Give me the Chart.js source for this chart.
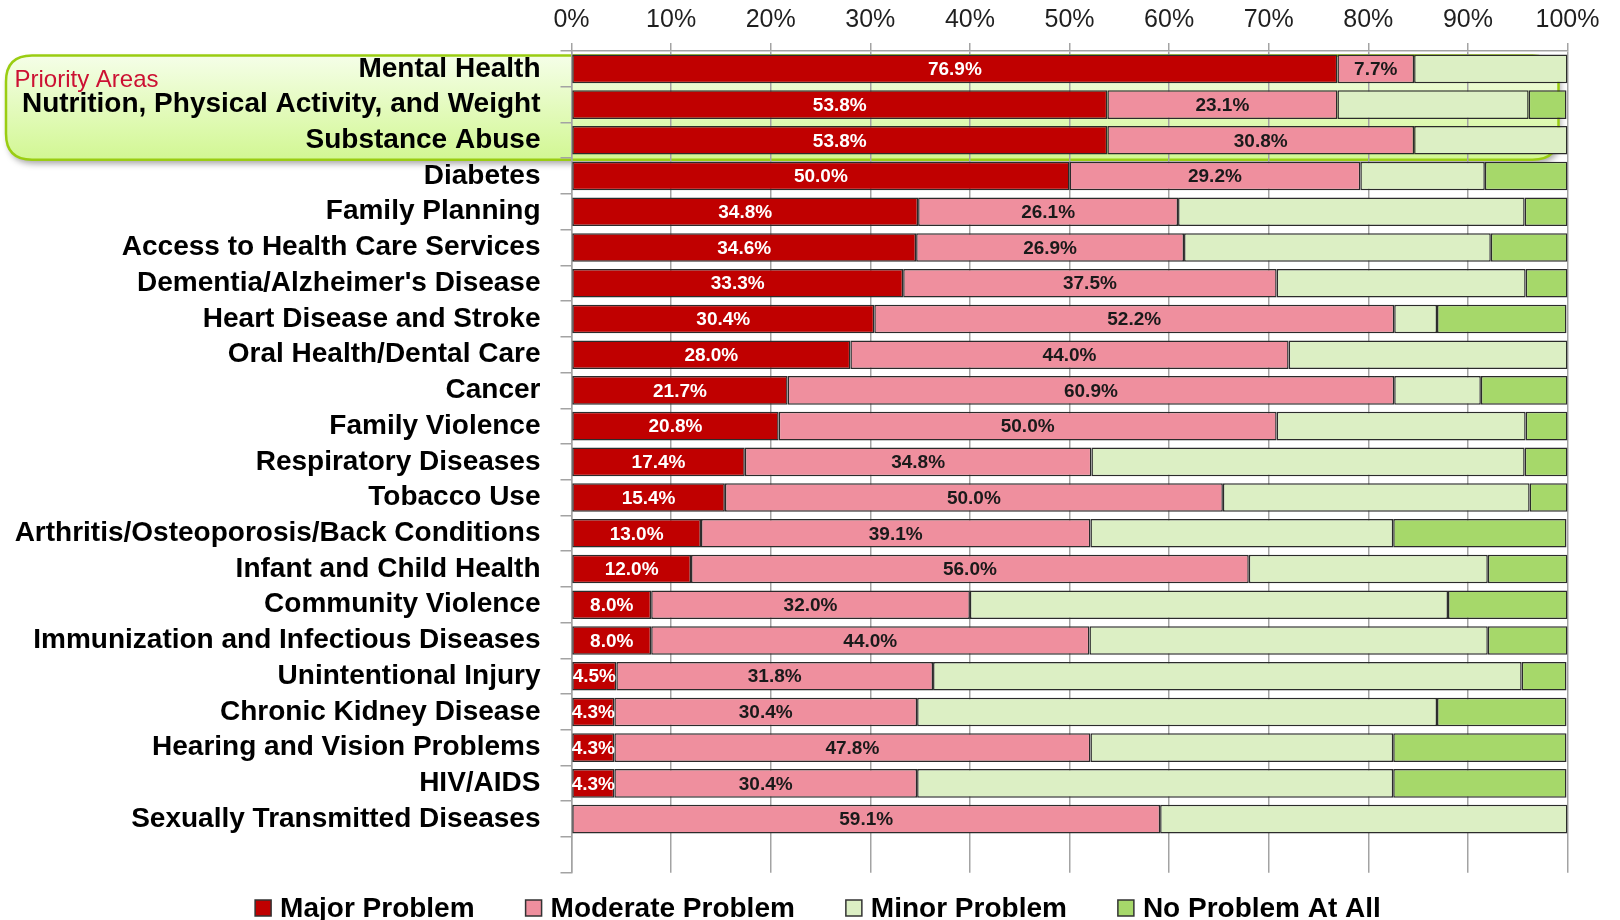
<!DOCTYPE html>
<html>
<head>
<meta charset="utf-8">
<title>Community Health Problems</title>
<script src="https://cdn.jsdelivr.net/npm/chart.js@4.4.1/dist/chart.umd.min.js"></script>
<style>
body { margin: 0; background: #fff; }
#chart { display: block; }
</style>
</head>
<body>
<canvas id="chart" width="1620" height="920"></canvas>
<script>
// last category is empty, the axis leaves one blank row at the bottom
var categories = [
    "Mental Health",
    "Nutrition, Physical Activity, and Weight",
    "Substance Abuse",
    "Diabetes",
    "Family Planning",
    "Access to Health Care Services",
    "Dementia/Alzheimer's Disease",
    "Heart Disease and Stroke",
    "Oral Health/Dental Care",
    "Cancer",
    "Family Violence",
    "Respiratory Diseases",
    "Tobacco Use",
    "Arthritis/Osteoporosis/Back Conditions",
    "Infant and Child Health",
    "Community Violence",
    "Immunization and Infectious Diseases",
    "Unintentional Injury",
    "Chronic Kidney Disease",
    "Hearing and Vision Problems",
    "HIV/AIDS",
    "Sexually Transmitted Diseases",
    ""
];

var majorProblem    = [76.9, 53.8, 53.8, 50.0, 34.8, 34.6, 33.3, 30.4, 28.0, 21.7, 20.8, 17.4, 15.4, 13.0, 12.0, 8.0, 8.0, 4.5, 4.3, 4.3, 4.3, 0, null];
var moderateProblem = [7.7, 23.1, 30.8, 29.2, 26.1, 26.9, 37.5, 52.2, 44.0, 60.9, 50.0, 34.8, 50.0, 39.1, 56.0, 32.0, 44.0, 31.8, 30.4, 47.8, 30.4, 59.1, null];
var minorProblem    = [15.4, 19.2, 15.4, 12.5, 34.8, 30.8, 25.0, 4.3, 28.0, 8.7, 25.0, 43.5, 30.8, 30.4, 24.0, 48.0, 40.0, 59.1, 52.2, 30.4, 47.8, 40.9, null];
var noProblem       = [0, 3.8, 0, 8.3, 4.3, 7.7, 4.2, 13.0, 0, 8.7, 4.2, 4.3, 3.8, 17.4, 8.0, 12.0, 8.0, 4.5, 13.0, 17.4, 17.4, 0, null];

var seriesNames = ["Major Problem", "Moderate Problem", "Minor Problem", "No Problem At All"];
var seriesColors = ["#c00000", "#ef8f9e", "#dcefc4", "#a6d86a"];
var priorityCount = 3;

var fontFamily = '"Liberation Sans", Arial, Helvetica, sans-serif';
var gridColor = "#a3a3a3";

function roundedRect(ctx, x, y, w, h, r) {
    ctx.beginPath();
    ctx.moveTo(x + r, y);
    ctx.lineTo(x + w - r, y);
    ctx.quadraticCurveTo(x + w, y, x + w, y + r);
    ctx.lineTo(x + w, y + h - r);
    ctx.quadraticCurveTo(x + w, y + h, x + w - r, y + h);
    ctx.lineTo(x + r, y + h);
    ctx.quadraticCurveTo(x, y + h, x, y + h - r);
    ctx.lineTo(x, y + r);
    ctx.quadraticCurveTo(x, y, x + r, y);
    ctx.closePath();
}

// green call-out behind the first rows, drawn before grid and labels
var priorityBox = {
    id: "priorityBox",
    beforeDraw: function(chart) {
        var ctx = chart.ctx;
        var xs = chart.scales.x;
        var ys = chart.scales.y;
        var band = ys.getPixelForValue(1) - ys.getPixelForValue(0);
        var left = 6;
        var right = xs.getPixelForValue(100) - 9;
        var top = ys.getPixelForValue(0) - band / 2 + 4.5;
        var bottom = ys.getPixelForValue(priorityCount - 1) + band / 2 + 1.5;

        ctx.save();
        var grad = ctx.createLinearGradient(0, top, 0, bottom);
        grad.addColorStop(0, "#f5fee8");
        grad.addColorStop(1, "#d2f793");
        ctx.shadowColor = "rgba(0,0,0,0.35)";
        ctx.shadowBlur = 6;
        ctx.shadowOffsetX = 2;
        ctx.shadowOffsetY = 4;
        roundedRect(ctx, left, top, right - left, bottom - top, 26);
        ctx.fillStyle = grad;
        ctx.fill();
        ctx.shadowColor = "transparent";
        ctx.lineWidth = 2.5;
        ctx.strokeStyle = "#9acd12";
        ctx.stroke();

        ctx.font = "24px " + fontFamily;
        ctx.fillStyle = "#cc1133";
        ctx.textAlign = "left";
        ctx.textBaseline = "alphabetic";
        ctx.fillText("Priority Areas", 14.5, 87);
        ctx.restore();
    }
};

// percentages on the major and moderate segments
var barLabels = {
    id: "barLabels",
    afterDatasetsDraw: function(chart) {
        var ctx = chart.ctx;
        ctx.save();
        ctx.font = "bold 19px " + fontFamily;
        ctx.textAlign = "center";
        ctx.textBaseline = "middle";
        for (var d = 0; d < 2; d++) {
            var meta = chart.getDatasetMeta(d);
            var values = chart.data.datasets[d].data;
            ctx.fillStyle = d === 0 ? "#ffffff" : "#1a1a1a";
            for (var i = 0; i < meta.data.length; i++) {
                if (!values[i]) {
                    continue;
                }
                var bar = meta.data[i];
                ctx.fillText(values[i].toFixed(1) + "%", (bar.x + bar.base) / 2, bar.y + 1);
            }
        }
        ctx.restore();
    }
};

// legend drawn by hand so the spacing can follow the original
var bottomLegend = {
    id: "bottomLegend",
    afterDraw: function(chart) {
        var ctx = chart.ctx;
        var sets = chart.data.datasets;
        var box = 16, gap = 9, spacing = 51;
        ctx.save();
        ctx.font = "bold 28px " + fontFamily;
        var widths = [];
        var total = 0;
        for (var i = 0; i < sets.length; i++) {
            widths[i] = box + gap + ctx.measureText(sets[i].label).width;
            total += widths[i];
        }
        total += spacing * (sets.length - 1);
        var x = 818 - total / 2;
        var baseline = 917;
        ctx.textAlign = "left";
        ctx.textBaseline = "alphabetic";
        for (var i = 0; i < sets.length; i++) {
            ctx.fillStyle = sets[i].backgroundColor;
            ctx.fillRect(x, baseline - 17, box, box);
            ctx.lineWidth = 1.5;
            ctx.strokeStyle = "#333333";
            ctx.strokeRect(x, baseline - 17, box, box);
            ctx.fillStyle = "#000000";
            ctx.fillText(sets[i].label, x + box + gap, baseline);
            x += widths[i] + spacing;
        }
        ctx.restore();
    }
};

var seriesData = [majorProblem, moderateProblem, minorProblem, noProblem];
var datasets = [];
for (var s = 0; s < seriesData.length; s++) {
    datasets.push({
        label: seriesNames[s],
        data: seriesData[s],
        backgroundColor: seriesColors[s],
        borderColor: "#2b2b2b",
        borderWidth: 1.5,
        borderSkipped: false,
        barPercentage: 0.8,
        categoryPercentage: 1.0
    });
}

var chart = new Chart(document.getElementById("chart"), {
    type: "bar",
    data: {
        labels: categories,
        datasets: datasets
    },
    options: {
        indexAxis: "y",
        responsive: false,
        animation: false,
        devicePixelRatio: 1,
        layout: {
            padding: { left: 0, right: 52.5, top: 0, bottom: 47.3 }
        },
        plugins: {
            legend: { display: false },
            tooltip: { enabled: false }
        },
        scales: {
            x: {
                stacked: true,
                position: "top",
                min: 0,
                max: 100,
                afterFit: function(scale) {
                    scale.height = 51;
                },
                ticks: {
                    stepSize: 10,
                    padding: 8,
                    color: "#1f1f1f",
                    font: { family: fontFamily, size: 25 },
                    callback: function(value) {
                        return value + "%";
                    }
                },
                grid: {
                    color: gridColor,
                    lineWidth: 1.5,
                    tickLength: 8
                },
                border: { color: gridColor, width: 1.5 }
            },
            y: {
                stacked: true,
                afterFit: function(scale) {
                    scale.width = 571.5;
                },
                ticks: {
                    padding: 20,
                    color: "#000000",
                    autoSkip: false,
                    font: { family: fontFamily, size: 28, weight: "bold" }
                },
                grid: {
                    drawOnChartArea: false,
                    color: gridColor,
                    lineWidth: 1.5,
                    tickLength: 11
                },
                border: { color: gridColor, width: 1.5 }
            }
        }
    },
    plugins: [priorityBox, barLabels, bottomLegend]
});
</script>
</body>
</html>
